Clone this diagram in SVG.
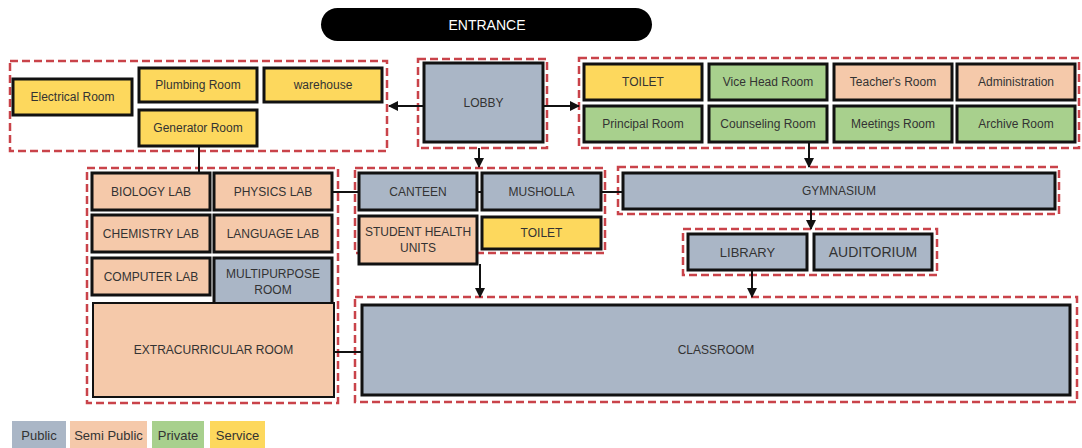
<svg xmlns="http://www.w3.org/2000/svg" width="1082" height="448" viewBox="0 0 1082 448">
<style>
.zone{fill:none;stroke:#c9434a;stroke-width:2.5;stroke-dasharray:8 4}
.room{stroke:#111;stroke-width:3}
.pub{fill:#aab6c6}.semi{fill:#f5c9aa}.priv{fill:#a8d08d}.serv{fill:#fdd85d}
text{font-family:"Liberation Sans",Arial,sans-serif;font-size:12px;fill:#333;text-anchor:middle;dominant-baseline:central}
.con{stroke:#111;stroke-width:2;fill:none}
</style>
<defs>
<marker id="ah" viewBox="0 0 10 10" refX="9" refY="5" markerWidth="5" markerHeight="5" orient="auto" markerUnits="strokeWidth">
<path d="M0,0 L10,5 L0,10 z" fill="#111"/>
</marker>
</defs>
<rect width="1082" height="448" fill="#fff"/>

<g id="entrance">
<rect x="321" y="8" width="331" height="33" rx="16.5" fill="#000"/>
<text x="487" y="24.5" style="fill:#fff;font-size:14px">ENTRANCE</text>
</g>

<g id="zones">
<rect class="zone" x="10" y="61" width="377" height="90"/>
<rect class="zone" x="418" y="59" width="129" height="89"/>
<rect class="zone" x="579" y="58" width="500" height="90"/>
<rect class="zone" x="87" y="168" width="251" height="235"/>
<rect class="zone" x="355" y="168" width="250" height="85"/>
<rect class="zone" x="618" y="167" width="441" height="47"/>
<rect class="zone" x="683" y="229" width="254" height="46"/>
<rect class="zone" x="355" y="297" width="722" height="105"/>
</g>

<g id="connectors">
<line class="con" x1="424" y1="106" x2="389" y2="106" marker-end="url(#ah)"/>
<line class="con" x1="543" y1="106" x2="579" y2="106" marker-end="url(#ah)"/>
<line class="con" x1="479" y1="148" x2="479" y2="167" marker-end="url(#ah)"/>
<line class="con" x1="809" y1="142" x2="809" y2="167" marker-end="url(#ah)"/>
<line class="con" x1="199" y1="146" x2="199" y2="173"/>
<line class="con" x1="332" y1="192" x2="360" y2="192"/>
<line class="con" x1="477" y1="192" x2="482" y2="192"/>
<line class="con" x1="601" y1="192" x2="623" y2="192"/>
<line class="con" x1="811" y1="209" x2="811" y2="229" marker-end="url(#ah)"/>
<line class="con" x1="480" y1="264" x2="480" y2="297" marker-end="url(#ah)"/>
<line class="con" x1="752" y1="270" x2="752" y2="297" marker-end="url(#ah)"/>
<line class="con" x1="334" y1="352" x2="362" y2="352"/>
</g>

<g id="electrical-room"><rect class="room serv" x="13" y="79" width="119" height="36"/><text x="72.5" y="97">Electrical Room</text></g>
<g id="plumbing-room"><rect class="room serv" x="139" y="68" width="118" height="34"/><text x="198" y="85">Plumbing Room</text></g>
<g id="warehouse"><rect class="room serv" x="264" y="68" width="118" height="34"/><text x="323" y="85">warehouse</text></g>
<g id="generator-room"><rect class="room serv" x="139" y="110" width="118" height="36"/><text x="198" y="128">Generator Room</text></g>

<g id="lobby"><rect class="room pub" x="424" y="63" width="119" height="79"/><text x="483.5" y="103">LOBBY</text></g>

<g id="toilet-1"><rect class="room serv" x="584" y="64" width="118" height="36"/><text x="643" y="82">TOILET</text></g>
<g id="vice-head-room"><rect class="room priv" x="709" y="64" width="118" height="36"/><text x="768" y="82">Vice Head Room</text></g>
<g id="teachers-room"><rect class="room semi" x="834" y="64" width="118" height="36"/><text x="893" y="82">Teacher's Room</text></g>
<g id="administration"><rect class="room semi" x="957" y="64" width="118" height="36"/><text x="1016" y="82">Administration</text></g>
<g id="principal-room"><rect class="room priv" x="584" y="106" width="118" height="36"/><text x="643" y="124">Principal Room</text></g>
<g id="counseling-room"><rect class="room priv" x="709" y="106" width="118" height="36"/><text x="768" y="124">Counseling Room</text></g>
<g id="meetings-room"><rect class="room priv" x="834" y="106" width="118" height="36"/><text x="893" y="124">Meetings Room</text></g>
<g id="archive-room"><rect class="room priv" x="957" y="106" width="118" height="36"/><text x="1016" y="124">Archive Room</text></g>

<g id="biology-lab"><rect class="room semi" x="92" y="173" width="118" height="37"/><text x="151" y="191.5">BIOLOGY LAB</text></g>
<g id="physics-lab"><rect class="room semi" x="214" y="173" width="118" height="37"/><text x="273" y="191.5">PHYSICS LAB</text></g>
<g id="chemistry-lab"><rect class="room semi" x="92" y="215" width="118" height="37"/><text x="151" y="233.5">CHEMISTRY LAB</text></g>
<g id="language-lab"><rect class="room semi" x="214" y="215" width="118" height="37"/><text x="273" y="233.5">LANGUAGE LAB</text></g>
<g id="computer-lab"><rect class="room semi" x="92" y="258" width="118" height="37"/><text x="151" y="276.5">COMPUTER LAB</text></g>
<g id="multipurpose-room"><rect class="room pub" x="214" y="258" width="118" height="46"/><text x="273" y="274">MULTIPURPOSE</text><text x="273" y="290">ROOM</text></g>
<g id="extracurricular-room"><rect class="room semi" x="93" y="303" width="241" height="94" style="stroke-width:2"/><text x="213.5" y="350">EXTRACURRICULAR ROOM</text></g>

<g id="canteen"><rect class="room pub" x="359" y="173" width="118" height="37"/><text x="418" y="191.5">CANTEEN</text></g>
<g id="musholla"><rect class="room pub" x="482" y="173" width="119" height="37"/><text x="541.5" y="191.5">MUSHOLLA</text></g>
<g id="student-health-units"><rect class="room semi" x="359" y="216" width="118" height="48"/><text x="418" y="232">STUDENT HEALTH</text><text x="418" y="248">UNITS</text></g>
<g id="toilet-2"><rect class="room serv" x="482" y="217" width="119" height="32"/><text x="541.5" y="233">TOILET</text></g>

<g id="gymnasium"><rect class="room pub" x="623" y="173" width="432" height="36"/><text x="839" y="191">GYMNASIUM</text></g>
<g id="library"><rect class="room pub" x="688" y="234" width="119" height="36"/><text x="747.5" y="252" style="font-size:13px">LIBRARY</text></g>
<g id="auditorium"><rect class="room pub" x="814" y="234" width="118" height="36"/><text x="873" y="252" style="font-size:14px">AUDITORIUM</text></g>

<g id="classroom"><rect class="room pub" x="362" y="305" width="708" height="90"/><text x="716" y="350">CLASSROOM</text></g>

<g id="legend">
<rect class="pub" x="12" y="421" width="54" height="27"/><text x="39" y="435.5" style="font-size:13px">Public</text>
<rect class="semi" x="70" y="421" width="77" height="27"/><text x="108.5" y="435.5" style="font-size:13px">Semi Public</text>
<rect class="priv" x="152" y="421" width="52" height="27"/><text x="178" y="435.5" style="font-size:13px">Private</text>
<rect class="serv" x="210" y="421" width="55" height="27"/><text x="237.5" y="435.5" style="font-size:13px">Service</text>
</g>
</svg>
